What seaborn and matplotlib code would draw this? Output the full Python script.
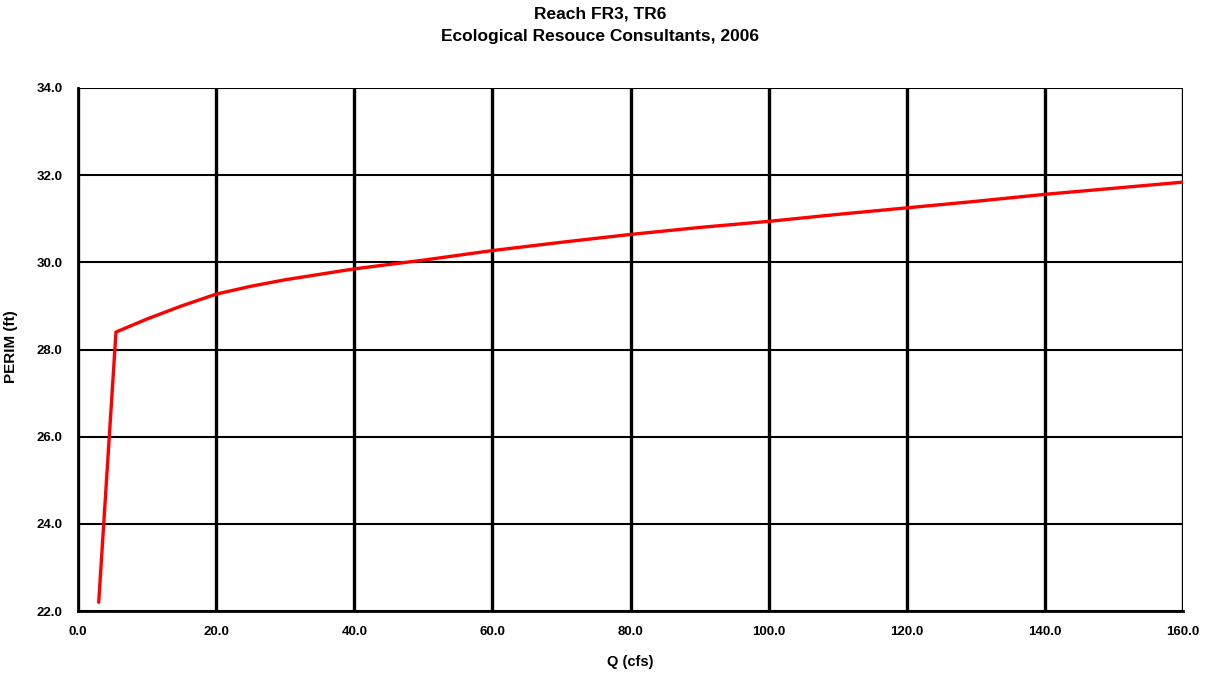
import matplotlib
matplotlib.use("Agg")
import matplotlib.pyplot as plt
import seaborn as sns
import pandas as pd
from matplotlib.ticker import FormatStrFormatter, MultipleLocator

# Wetted perimeter vs. discharge, Reach FR3, transect TR6
q_cfs = [3.0, 5.5, 10, 15, 20, 25, 30, 40, 50, 60, 70, 80, 90, 100,
         110, 120, 130, 140, 150, 160]
perim_ft = [22.2, 28.4, 28.7, 29.0, 29.27, 29.45, 29.6, 29.85, 30.05, 30.27,
            30.46, 30.64, 30.8, 30.94, 31.1, 31.25, 31.4, 31.56, 31.7, 31.84]

title_lines = ["Reach FR3, TR6", "Ecological Resouce Consultants, 2006"]
x_label = "Q (cfs)"
y_label = "PERIM (ft)"

sns.set_style("white")
plt.rcParams["font.family"] = ["Liberation Sans", "DejaVu Sans"]
plt.rcParams["text.color"] = "black"
plt.rcParams["axes.labelcolor"] = "black"
plt.rcParams["xtick.color"] = "black"
plt.rcParams["ytick.color"] = "black"

df = pd.DataFrame({"Q": q_cfs, "PERIM": perim_ft})

fig = plt.figure(figsize=(12.16, 6.75), dpi=100)
ax = fig.add_axes([78 / 1216, 1 - 611 / 675, (1183 - 78) / 1216, (611 - 88) / 675])

sns.lineplot(data=df, x="Q", y="PERIM", ax=ax, color="#ff0000",
             linewidth=2.4, zorder=5, sort=False)

ax.set_xlim(0, 160)
ax.set_ylim(22, 34)
ax.xaxis.set_major_locator(MultipleLocator(20))
ax.yaxis.set_major_locator(MultipleLocator(2))
ax.xaxis.set_major_formatter(FormatStrFormatter("%.1f"))
ax.yaxis.set_major_formatter(FormatStrFormatter("%.1f"))

# Heavy vertical grid, lighter horizontal grid
ax.grid(axis="x", color="black", linewidth=2.4, zorder=1)
ax.grid(axis="y", color="black", linewidth=1.5, zorder=1)
ax.set_axisbelow(True)

for side in ["left", "bottom"]:
    ax.spines[side].set_color("black")
    ax.spines[side].set_linewidth(2.0)
for side in ["top", "right"]:
    ax.spines[side].set_visible(False)

ax.tick_params(axis="both", direction="inout", length=8, width=2.0,
               color="black", labelcolor="black", labelsize=9.5, pad=7)
for lbl in ax.get_xticklabels() + ax.get_yticklabels():
    lbl.set_fontweight("bold")

ax.set_xlabel(x_label, fontsize=10.5, fontweight="bold", labelpad=12)
ax.set_ylabel(y_label, fontsize=11, fontweight="bold")
ax.yaxis.set_label_coords(18 / 1216, 1 - 347 / 675, transform=fig.transFigure)

fig.text(600 / 1216, 1 - 14 / 675, title_lines[0], ha="center", va="center",
         fontsize=12.5, fontweight="bold")
fig.text(600 / 1216, 1 - 37 / 675, title_lines[1], ha="center", va="center",
         fontsize=12.5, fontweight="bold")

fig.savefig("out.png", dpi=100, facecolor="white")
